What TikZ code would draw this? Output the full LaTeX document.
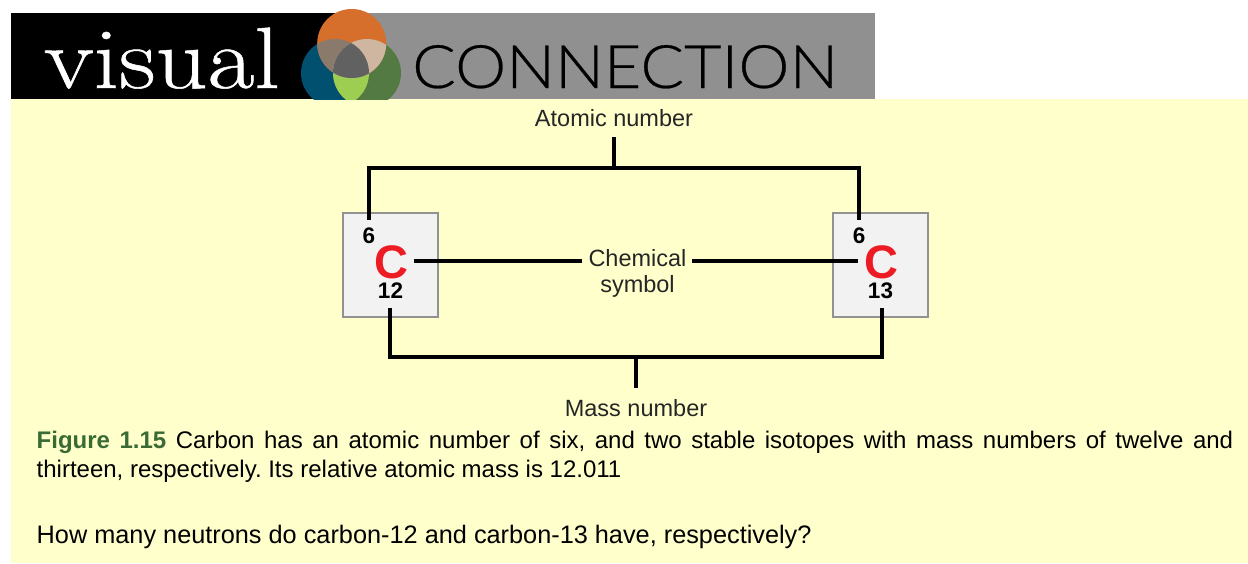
\documentclass[tikz,border=0pt]{standalone}
\usepackage{fontspec}
\setmainfont{Liberation Sans}
\newfontfamily\lmfont[FakeBold=0.6]{Latin Modern Roman}
\newfontfamily\confont[FakeBold=0.4]{Lato Light}
\frenchspacing
\definecolor{panel}{HTML}{FFFFCC}
\definecolor{bargrey}{HTML}{909090}
\definecolor{boxfill}{HTML}{F2F2F2}
\definecolor{boxline}{HTML}{929292}
\definecolor{symred}{HTML}{ED1C24}
\definecolor{figgreen}{HTML}{3A6B35}
\definecolor{cblue}{HTML}{01506F}
\definecolor{cgreen}{HTML}{537A43}
\definecolor{clime}{HTML}{9DCD51}
\definecolor{corange}{HTML}{D66F2B}
\definecolor{cob}{HTML}{8A7A6C}
\definecolor{cog}{HTML}{CFB6A0}
\definecolor{ctri}{HTML}{616161}
\tikzset{
  elem/.style={draw=boxline,fill=boxfill,line width=2.2pt,minimum width=94.5pt,minimum height=103.5pt,inner sep=0pt},
  lab/.style={inner sep=0pt,font=\fontsize{23.5}{26.5}\selectfont,align=center,text=black!85},
  num/.style={inner sep=0pt,font=\fontsize{22.5}{24}\selectfont\bfseries},
  sym/.style={inner sep=0pt,font=\fontsize{47}{50}\selectfont\bfseries,text=symred},
  wire/.style={line width=3.2pt,black},
  captext/.style={inner sep=0pt,anchor=north west,text width=1196.5pt,align=justify,font=\fontsize{24}{29}\selectfont}
}
\begin{document}
\begin{tikzpicture}[x=1pt,y=-1pt]
\useasboundingbox (0,0) rectangle (1248,563);
\fill[white] (0,0) rectangle (1248,563);
\fill[panel] (11,99) rectangle (1248,563);
\fill[bargrey] (340,13) rectangle (875,99);
\fill[black] (11,13) rectangle (345,99);
% logo circles
\begin{scope}
\clip (290,0) rectangle (420,99);
\fill[cblue] (335,73) circle (34);
\fill[cgreen] (367,73) circle (34);
\begin{scope}
  \clip (335,73) circle (34);
  \fill[clime] (367,73) circle (34);
\end{scope}
\fill[corange] (351.7,43.5) circle (34.5);
\begin{scope}
  \clip (351.7,43.5) circle (34.5);
  \fill[cob] (335,73) circle (34);
  \fill[cog] (367,73) circle (34);
  \begin{scope}
    \clip (335,73) circle (34);
    \fill[ctri] (367,73) circle (34);
  \end{scope}
\end{scope}
\end{scope}
\node[anchor=base west,inner sep=0pt,text=white,xscale=1.17,font=\lmfont\fontsize{87}{88}\selectfont] (vis) at (44,88) {visual};
\node[anchor=base west,inner sep=0pt,text=black,xscale=1.077,font=\confont\fontsize{60}{60}\selectfont] (con) at (412,88) {CONNECTION};
% element boxes
\node[elem] (boxL) at (390.5,265) {};
\node[elem] (boxR) at (880.5,265) {};
\node[num] (zL) at (369,236) {6};
\node[num] (zR) at (859,236) {6};
\node[sym] (cL) at (391,262) {C};
\node[sym] (cR) at (881,262) {C};
\node[num] (aL) at (390.5,291) {12};
\node[num] (aR) at (880.5,291) {13};
% labels
\node[lab] (atomic) at (614,118) {Atomic number};
\node[lab] (chem) at (637.5,273.5) {Chemical\\symbol};
\node[lab] (mass) at (636,408.5) {Mass number};
% connectors
\coordinate (atop) at (614,137);
\coordinate (ajoin) at (614,168);
\coordinate (aLe) at (369,220);
\coordinate (aRe) at (859,220);
\draw[wire] (atop) -- (ajoin);
\draw[wire] (aLe) -- (aLe |- ajoin) -- (aRe |- ajoin) -- (aRe);
\coordinate (sL) at (414,261);
\coordinate (sLe) at (582,261);
\coordinate (sRe) at (692,261);
\coordinate (sR) at (858,261);
\draw[wire] (sL) -- (sLe);
\draw[wire] (sRe) -- (sR);
\coordinate (mLe) at (390,308);
\coordinate (mRe) at (882,308);
\coordinate (mjoin) at (636,357);
\coordinate (mbot) at (636,388);
\draw[wire] (mLe) -- (mLe |- mjoin) -- (mRe |- mjoin) -- (mRe);
\draw[wire] (mjoin) -- (mbot);
% caption
\node[captext] (cap1) at (36.5,431) {{\bfseries\color{figgreen}Figure 1.15} Carbon has an atomic number of six, and two stable isotopes with mass numbers of twelve and thirteen, respectively. Its relative atomic mass is 12.011};
\node[inner sep=0pt,anchor=base west,font=\fontsize{25.3}{29}\selectfont] (cap2) at (36.5,543) {How many neutrons do carbon-12 and carbon-13 have, respectively?};
\end{tikzpicture}
\end{document}
